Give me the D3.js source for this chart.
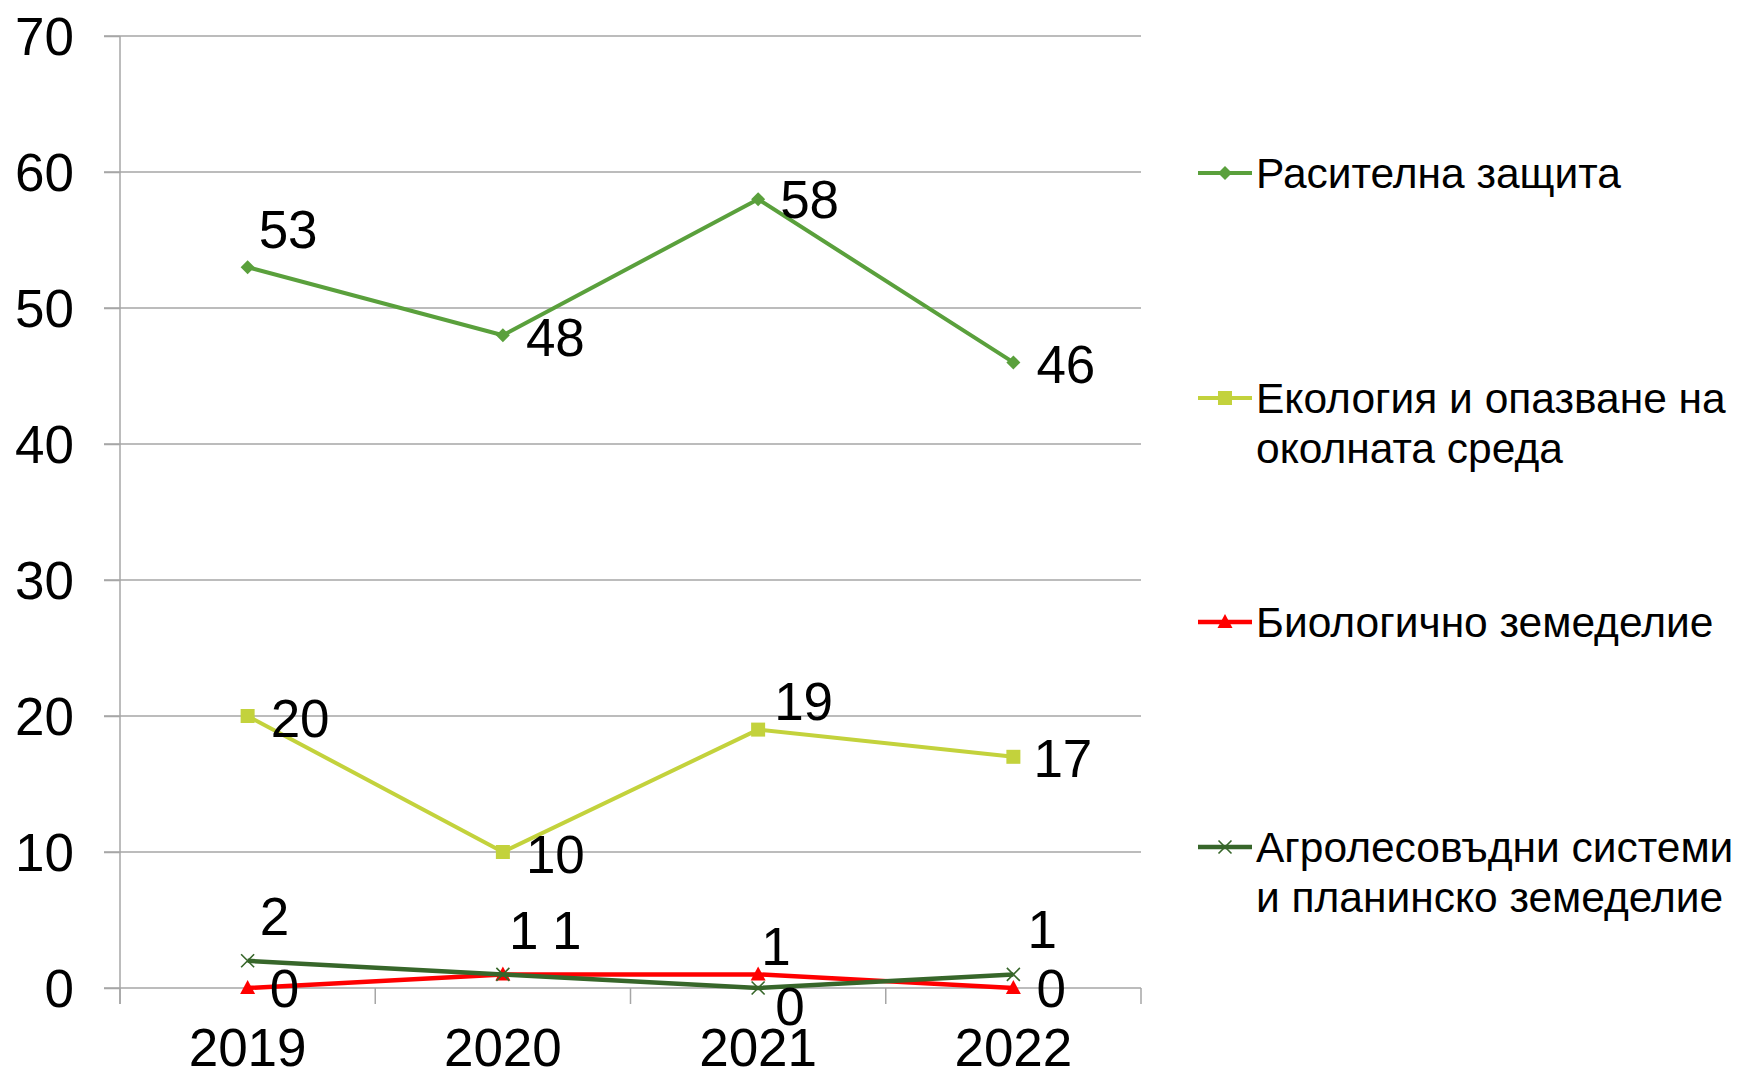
<!DOCTYPE html>
<html>
<head>
<meta charset="utf-8">
<script src="https://cdn.jsdelivr.net/npm/d3@7"></script>
<style>
  html, body { margin: 0; padding: 0; background: #ffffff; }
  svg { display: block; font-family: "Liberation Sans", Arial, sans-serif; }
</style>
</head>
<body>
<svg id="chart" width="1742" height="1072"></svg>
<script>
// ---------- data ----------
const years = ["2019", "2020", "2021", "2022"];
const rastitelnaZashtita = [53, 48, 58, 46];
const ekologia = [20, 10, 19, 17];
const biologichnoZemedelie = [0, 1, 1, 0];
const agrolesovadniSistemi = [2, 1, 0, 1];
const yTicks = [0, 10, 20, 30, 40, 50, 60, 70];
const seriesNames = [
  "Расителна защита",
  "Екология и опазване на околната среда",
  "Биологично земеделие",
  "Агролесовъдни системи и планинско земеделие"
];
const legendLines = [
  ["Расителна защита"],
  ["Екология и опазване на", "околната среда"],
  ["Биологично земеделие"],
  ["Агролесовъдни системи", "и планинско земеделие"]
];

// ---------- styling / layout (not data) ----------
const colors = ["#5AA03C", "#C3D23C", "#FF0000", "#37662A"];
const lineWidths = [4, 4, 4.5, 4.5];
const markerKinds = ["diamond", "square", "triangle", "cross"];
// data label offsets [dx to text start, dy to text middle] per series / point
const labelOffsets = [
  [[11, -38], [23, 2], [22, 0], [23, 2]],
  [[23, 2], [23, 2], [16, -28], [20, 2]],
  [[22, 0], [49, -44], [3, -28], [23, 0]],
  [[12, -44], [6, -44], [17, 18], [14, -45]]
];

const series = [rastitelnaZashtita, ekologia, biologichnoZemedelie, agrolesovadniSistemi];

const svg = d3.select("#chart");
const plot = { left: 120, right: 1141, top: 36, bottom: 988 };

const x = d3.scaleBand().domain(years).range([plot.left, plot.right]);
const y = d3.scaleLinear().domain([0, 70]).range([plot.bottom, plot.top]);
const cx = d => x(d) + x.bandwidth() / 2;

const gridColor = "#A6A6A6";

// gridlines
svg.append("g")
  .selectAll("line")
  .data(yTicks)
  .join("line")
  .attr("x1", plot.left - 16)
  .attr("x2", plot.right)
  .attr("y1", d => y(d))
  .attr("y2", d => y(d))
  .attr("stroke", gridColor)
  .attr("stroke-width", 1.5);

// y axis
const yAxis = svg.append("g")
  .attr("transform", `translate(${plot.left},0)`)
  .call(d3.axisLeft(y).tickValues(yTicks).tickSize(16).tickPadding(30));
yAxis.select(".domain").remove();
yAxis.selectAll(".tick line").attr("stroke", gridColor).attr("stroke-width", 1.5);
yAxis.selectAll("text")
  .attr("fill", "#000")
  .attr("font-size", 53)
  .attr("font-family", "Liberation Sans, Arial, sans-serif")
  .attr("dy", "0.35em");

// y axis line
svg.append("line")
  .attr("x1", plot.left).attr("x2", plot.left)
  .attr("y1", plot.top).attr("y2", plot.bottom + 16)
  .attr("stroke", gridColor).attr("stroke-width", 1.5);

// x axis (labels at band centers, ticks at band edges)
const xAxis = svg.append("g")
  .attr("transform", `translate(0,${plot.bottom})`)
  .call(d3.axisBottom(x).tickSize(0).tickPadding(0));
xAxis.select(".domain").remove();
xAxis.selectAll("text")
  .attr("fill", "#000")
  .attr("font-size", 53)
  .attr("font-family", "Liberation Sans, Arial, sans-serif")
  .attr("y", 59)
  .attr("dy", "0.35em");

const edges = years.map(d => x(d)).concat([x.range()[1]]);
svg.append("g")
  .selectAll("line")
  .data(edges)
  .join("line")
  .attr("x1", d => d).attr("x2", d => d)
  .attr("y1", plot.bottom).attr("y2", plot.bottom + 16)
  .attr("stroke", gridColor).attr("stroke-width", 1.5);

// marker drawing
function drawMarker(g, kind, color) {
  if (kind === "diamond") {
    g.append("path").attr("d", "M0,-7L7,0L0,7L-7,0Z").attr("fill", color);
  } else if (kind === "square") {
    g.append("rect").attr("x", -7).attr("y", -7).attr("width", 14).attr("height", 14).attr("fill", color);
  } else if (kind === "triangle") {
    g.append("path").attr("d", "M0,-8L7.5,6L-7.5,6Z").attr("fill", color);
  } else if (kind === "cross") {
    g.append("path").attr("d", "M-6.5,-6.5L6.5,6.5M-6.5,6.5L6.5,-6.5")
      .attr("stroke", color).attr("stroke-width", 1.6).attr("fill", "none");
  }
}

const line = d3.line().x((d, i) => cx(years[i])).y(d => y(d));

series.forEach((vals, si) => {
  const g = svg.append("g");
  g.append("path")
    .datum(vals)
    .attr("d", line)
    .attr("fill", "none")
    .attr("stroke", colors[si])
    .attr("stroke-width", lineWidths[si])
    .attr("stroke-linejoin", "round");
  vals.forEach((v, i) => {
    const m = g.append("g").attr("transform", `translate(${cx(years[i])},${y(v)})`);
    drawMarker(m, markerKinds[si], colors[si]);
  });
});

// data labels (drawn on top)
series.forEach((vals, si) => {
  svg.append("g")
    .selectAll("text")
    .data(vals)
    .join("text")
    .attr("x", (d, i) => cx(years[i]) + labelOffsets[si][i][0])
    .attr("y", (d, i) => y(d) + labelOffsets[si][i][1])
    .attr("dy", "0.35em")
    .attr("font-size", 53)
    .attr("fill", "#000")
    .text(d => d);
});

// legend
const legendY = [173, 398, 622, 847];
const legend = svg.append("g");
legendLines.forEach((lines, si) => {
  const g = legend.append("g").attr("transform", `translate(1198,${legendY[si]})`);
  g.append("line")
    .attr("x1", 0).attr("x2", 54).attr("y1", 0).attr("y2", 0)
    .attr("stroke", colors[si]).attr("stroke-width", lineWidths[si]);
  const m = g.append("g").attr("transform", "translate(27,0)");
  drawMarker(m, markerKinds[si], colors[si]);
  const t = g.append("text")
    .attr("x", 58)
    .attr("y", 0)
    .attr("font-size", 42.5)
    .attr("fill", "#000");
  t.append("title").text(seriesNames[si]);
  lines.forEach((ln, li) => {
    t.append("tspan")
      .attr("x", 58)
      .attr("dy", li === 0 ? "0.36em" : "1.17em")
      .text(ln);
  });
});
</script>
</body>
</html>
